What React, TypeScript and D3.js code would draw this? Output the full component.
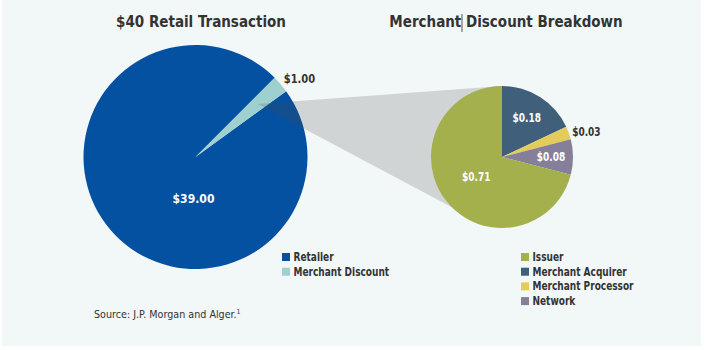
import React, { useEffect, useRef } from "react";
import * as d3 from "d3";

// ---- data ----
const retailCategories = ["Retailer", "Merchant Discount"];
const retailValues = [39.0, 1.0];
const retailLabels = ["$39.00", "$1.00"];
const retailColors = ["#0551a1", "#9ed0cf"];

const discountCategories = ["Merchant Acquirer", "Merchant Processor", "Network", "Issuer"];
const discountValues = [0.18, 0.03, 0.08, 0.71];
const discountLabels = ["$0.18", "$0.03", "$0.08", "$0.71"];
const discountColors = ["#3f5f7a", "#e3cc5c", "#857f9a", "#a3b04b"];
const discountLegendOrder = ["Issuer", "Merchant Acquirer", "Merchant Processor", "Network"];

const titles = ["$40 Retail Transaction", "Merchant Discount Breakdown"];
const sourceText = "Source: J.P. Morgan and Alger.";

const W = 709;
const H = 350;
const FONT = "'Liberation Sans Narrow', 'DejaVu Sans Condensed', 'Roboto Condensed', 'Arial Narrow', sans-serif";
const TEXT = "#333333";

type Sel = d3.Selection<any, unknown, null, undefined>;

function txt(
  g: Sel,
  x: number,
  y: number,
  s: string,
  size: number,
  opts: { sx?: number; anchor?: string; fill?: string; bold?: boolean } = {}
) {
  const sx = opts.sx ?? 1;
  return g
    .append("text")
    .attr("transform", `translate(${x},${y}) scale(${sx},1)`)
    .attr("dy", "0.35em")
    .attr("text-anchor", opts.anchor ?? "start")
    .attr("fill", opts.fill ?? TEXT)
    .attr("font-weight", opts.bold === false ? "normal" : "bold")
    .attr("font-size", size)
    .attr("font-family", FONT)
    .text(s);
}

export default function App() {
  const ref = useRef<SVGSVGElement | null>(null);

  useEffect(() => {
    const svg = d3.select(ref.current) as unknown as Sel;
    svg.selectAll("*").remove();

    svg.append("rect").attr("x", 2).attr("y", 0).attr("width", 699).attr("height", 346).attr("fill", "#f2f7f8");

    // big pie
    const bigC = { x: 195.5, y: 157 };
    const bigR = 112;
    const mdStart = (45 * Math.PI) / 180;
    const mdSpan = (retailValues[1] / d3.sum(retailValues)) * 2 * Math.PI;
    const bigPie = d3
      .pie<number>()
      .sort(null)
      .value((d) => d)
      .startAngle(mdStart + mdSpan - 2 * Math.PI)
      .endAngle(mdStart + mdSpan);
    const bigArcs = bigPie(retailValues);
    const bigArc = d3.arc<d3.PieArcDatum<number>>().innerRadius(0).outerRadius(bigR);
    const gBig = svg.append("g").attr("transform", `translate(${bigC.x},${bigC.y})`);
    gBig
      .selectAll("path")
      .data(bigArcs)
      .join("path")
      .attr("d", bigArc as any)
      .attr("fill", (_: any, i: number) => retailColors[i]);

    // small pie
    const smC = { x: 502, y: 157 };
    const smR = 71;
    const smPie = d3.pie<number>().sort(null).value((d) => d);
    const smArcs = smPie(discountValues);
    const smArc = d3.arc<d3.PieArcDatum<number>>().innerRadius(0).outerRadius(smR);

    // connector (zoom) polygon
    const md = bigArcs[1];
    const apexA = (md.startAngle + md.endAngle) / 2;
    const apexR = bigR * 0.73;
    const apex: [number, number] = [bigC.x + apexR * Math.sin(apexA), bigC.y - apexR * Math.cos(apexA)];
    const top: [number, number] = [smC.x, smC.y - smR];
    const botA = (225 * Math.PI) / 180;
    const bot: [number, number] = [smC.x + smR * Math.sin(botA), smC.y - smR * Math.cos(botA)];
    svg
      .append("path")
      .attr("d", d3.line()([apex, top, [smC.x, smC.y], bot]) + "Z")
      .attr("fill", "#4a4a4a")
      .attr("fill-opacity", 0.2);

    const gSm = svg.append("g").attr("transform", `translate(${smC.x},${smC.y})`);
    gSm
      .selectAll("path")
      .data(smArcs)
      .join("path")
      .attr("d", smArc as any)
      .attr("fill", (_: any, i: number) => discountColors[i]);

    // big pie labels
    txt(gBig, -2, bigR * 0.37, retailLabels[0], 13, { sx: 0.93, anchor: "middle", fill: "#fff" });
    {
      const r = bigR * 1.08;
      txt(gBig, r * Math.sin(apexA) + 12, -r * Math.cos(apexA), retailLabels[1], 13, { sx: 0.85, anchor: "middle" });
    }

    // small pie labels
    const labelR = [0.65, 1.05, 0.69, 0.46];
    smArcs.forEach((a, i) => {
      const ang = (a.startAngle + a.endAngle) / 2;
      const r = smR * labelR[i];
      const outside = labelR[i] > 1;
      txt(gSm, r * Math.sin(ang), -r * Math.cos(ang), discountLabels[i], 12.5, {
        sx: 0.8,
        anchor: outside ? "start" : "middle",
        fill: outside ? TEXT : "#fff",
      });
    });

    // titles
    const titleX = [201, 506];
    titles.forEach((t, i) => {
      txt(svg, titleX[i], 22, t, 15, { sx: 1, anchor: "middle" });
    });
    // text-cursor artifact
    svg.append("line").attr("x1", 462).attr("x2", 462).attr("y1", 14).attr("y2", 32).attr("stroke", "#555").attr("stroke-width", 1);

    // legends
    const legend = (x: number, y0: number, names: string[], colorOf: (n: string) => string) => {
      names.forEach((n, i) => {
        const y = y0 + i * 14.7;
        svg.append("rect").attr("x", x).attr("y", y - 4).attr("width", 8).attr("height", 8).attr("fill", colorOf(n));
        txt(svg, x + 11.5, y, n, 11.5, { sx: 0.87 });
      });
    };
    legend(282, 257, retailCategories, (n) => retailColors[retailCategories.indexOf(n)]);
    legend(521, 257, discountLegendOrder, (n) => discountColors[discountCategories.indexOf(n)]);

    // source
    const src = txt(svg, 94, 314, sourceText, 11, { sx: 0.97, bold: false });
    src.append("tspan").attr("dy", -4).attr("font-size", 7).text("1");
  }, []);

  return (
    <svg
      ref={ref}
      width={W}
      height={H}
      style={{ position: "absolute", left: 0, top: 0, background: "#fff" }}
    />
  );
}
